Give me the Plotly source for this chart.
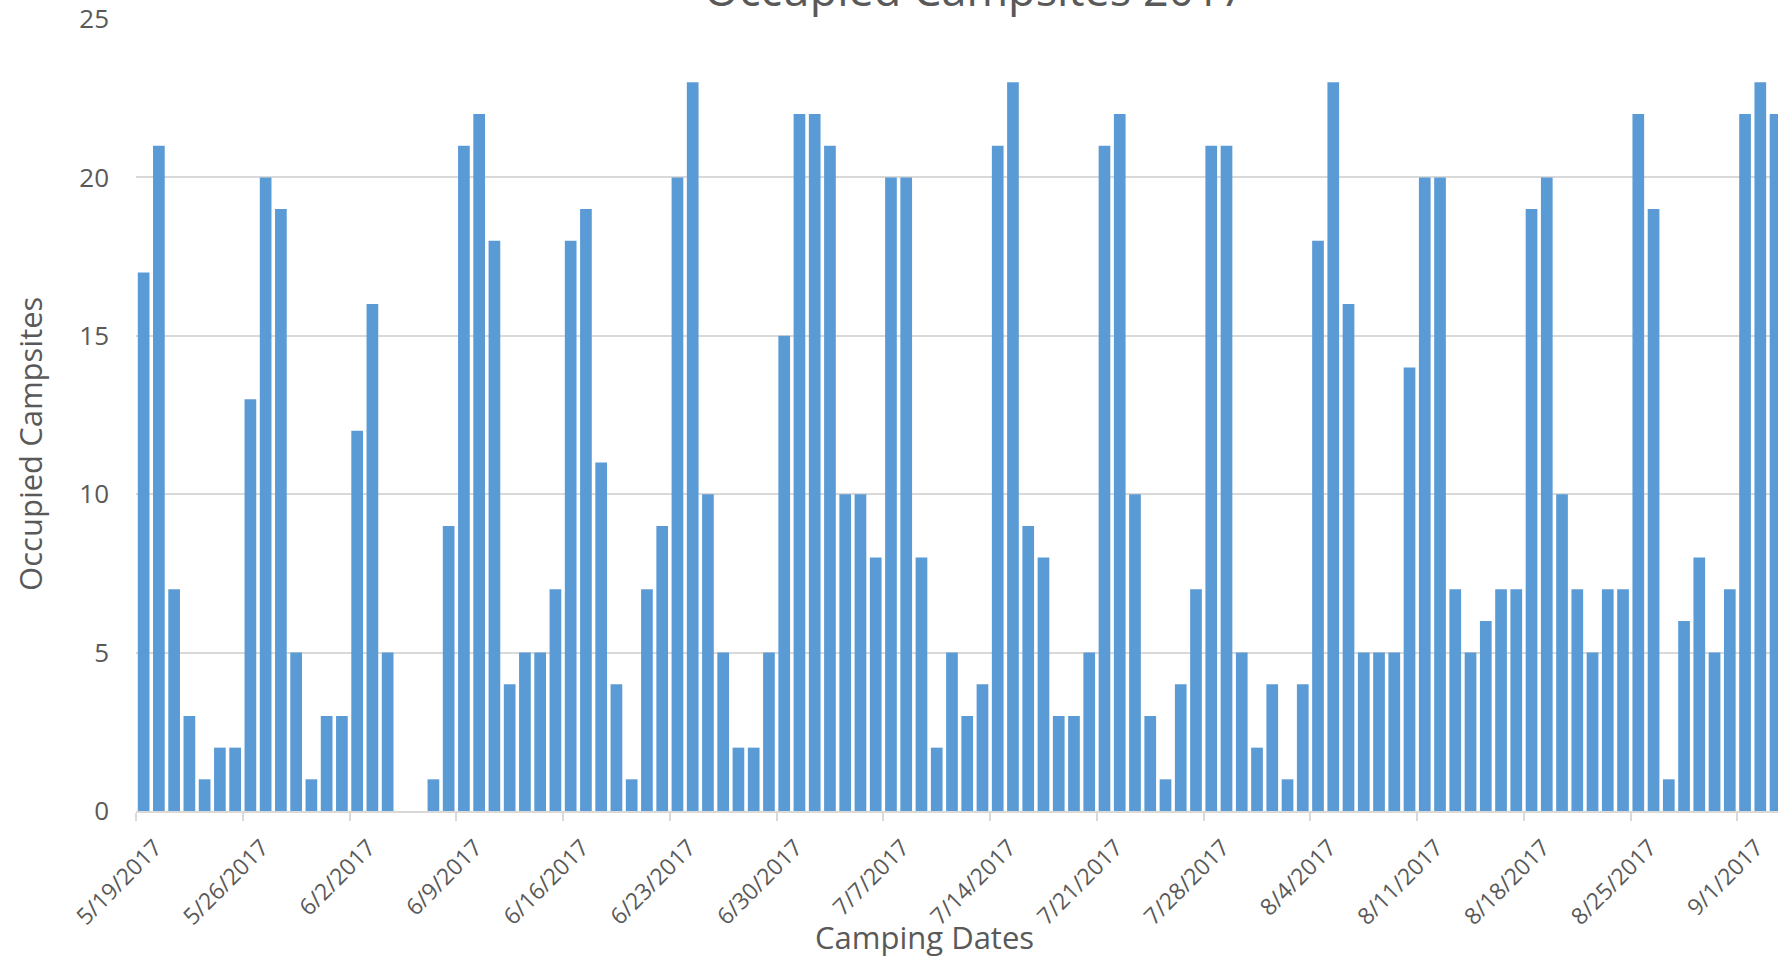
import pandas as pd
import plotly.graph_objects as go

START_DATE = "2017-05-19"
occupied = [
    17, 21, 7, 3, 1, 2, 2,
    13, 20, 19, 5, 1, 3, 3,
    12, 16, 5, 0, 0, 1, 9,
    21, 22, 18, 4, 5, 5, 7,
    18, 19, 11, 4, 1, 7, 9,
    20, 23, 10, 5, 2, 2, 5,
    15, 22, 22, 21, 10, 10, 8,
    20, 20, 8, 2, 5, 3, 4,
    21, 23, 9, 8, 3, 3, 5,
    21, 22, 10, 3, 1, 4, 7,
    21, 21, 5, 2, 4, 1, 4,
    18, 23, 16, 5, 5, 5, 14,
    20, 20, 7, 5, 6, 7, 7,
    19, 20, 10, 7, 5, 7, 7,
    22, 19, 1, 6, 8, 5, 7,
    22, 23, 22,
]
dates = pd.date_range(START_DATE, periods=len(occupied), freq="D")
tick_dates = pd.date_range(START_DATE, "2017-09-01", freq="7D")
tick_labels = [f"{d.month}/{d.day}/{d.year}" for d in tick_dates]
# labels sit a little right of the boundary tick marks, as in the original
label_pos = tick_dates + pd.Timedelta(hours=30)

TITLE = "Occupied Campsites 2017"
X_TITLE = "Camping Dates"
Y_TITLE = "Occupied Campsites"

FONT = "Open Sans"
TEXT = "#595959"
GRID = "#D9D9D9"
BAR = "#5B9BD5"

fig = go.Figure(go.Bar(
    x=dates, y=occupied,
    xperiod=86400000, xperiodalignment="middle",
    marker=dict(color=BAR, line=dict(width=0)),
))

x_end = pd.Timestamp(START_DATE) + pd.Timedelta(days=107.66)

fig.update_layout(
    width=1778, height=960,
    margin=dict(l=136, r=0, t=19, b=149),
    paper_bgcolor="white", plot_bgcolor="white",
    bargap=0.233,
    showlegend=False,
    font=dict(family=FONT, color=TEXT),
    xaxis=dict(
        type="date",
        range=[pd.Timestamp(START_DATE), x_end],
        tickmode="array",
        tickvals=label_pos,
        ticktext=tick_labels,
        tickangle=-45,
        tickfont=dict(size=23, color=TEXT, family=FONT),
        ticks="outside", ticklen=12, tickcolor="rgba(0,0,0,0)",
        minor=dict(tickmode="array", tickvals=tick_dates, ticks="outside",
                   ticklen=8, tickwidth=2, tickcolor=GRID, showgrid=False),
        showline=True, linecolor=GRID, linewidth=2,
        showgrid=False, zeroline=False,
    ),
    yaxis=dict(
        range=[0, 25],
        tickvals=[0, 5, 10, 15, 20, 25],
        tickfont=dict(size=26, color=TEXT, family=FONT),
        showgrid=True, gridcolor=GRID, gridwidth=2,
        zeroline=False, showline=False, ticks="",
        ticklabelstandoff=26,
    ),
    annotations=[
        dict(text=TITLE, xref="paper", yref="paper", x=0.511, y=1.0,
             xanchor="center", yanchor="bottom", showarrow=False, yshift=-2,
             font=dict(size=45, color=TEXT, family=FONT)),
        dict(text=X_TITLE, xref="paper", yref="paper", x=0.48, y=-0.159,
             xanchor="center", yanchor="middle", showarrow=False,
             font=dict(size=31, color=TEXT, family=FONT)),
        dict(text=Y_TITLE, xref="paper", yref="paper", x=-0.0646, y=0.4634,
             xanchor="center", yanchor="middle", showarrow=False, textangle=-90,
             font=dict(size=31, color=TEXT, family=FONT)),
    ],
)

fig.write_html("out.html")
